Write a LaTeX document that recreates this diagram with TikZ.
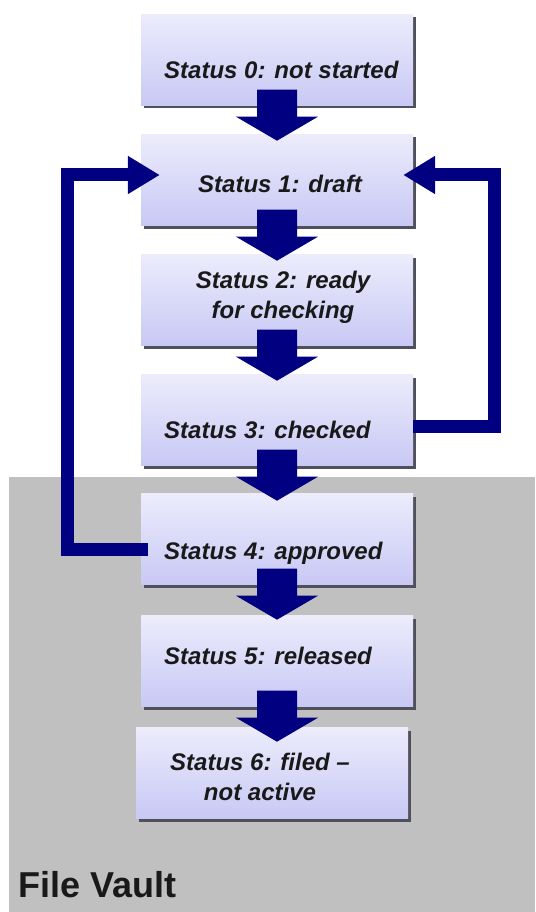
\documentclass[tikz,border=0pt]{standalone}
\usepackage{fontspec}
\setmainfont{Liberation Sans}
\usetikzlibrary{arrows.meta,calc,shadows}
\definecolor{boxtop}{RGB}{236,236,252}
\definecolor{boxbottom}{RGB}{200,200,245}
\definecolor{boxshade}{RGB}{80,80,92}
\definecolor{flownavy}{RGB}{0,0,128}
\definecolor{vaultgray}{RGB}{192,192,192}

\begin{document}
\begin{tikzpicture}[
  x=1pt, y=-1pt,
  every node/.style={font=\fontsize{24}{30}\selectfont\bfseries\itshape, text=black!90},
  stbox/.style={rectangle, minimum width=272pt, minimum height=91pt, inner sep=0pt,
    top color=boxtop, bottom color=boxbottom,
    drop shadow={shadow xshift=3pt, shadow yshift=-3pt, fill=boxshade, opacity=1}},
  sttext/.style={anchor=base west, inner sep=0pt},
  sttwo/.style={anchor=base, align=center, inner sep=0pt},
  flowedge/.style={fill=flownavy},
  loopedge/.style={-{Triangle[length=32pt, width=36pt]}, draw=flownavy, line width=13pt, line join=miter},
]
\useasboundingbox (0,0) rectangle (535,912);

% ---- file vault area ----
\fill[vaultgray] (9,477) rectangle (535,912);
\node[anchor=base west, inner sep=0pt, font=\fontsize{36}{40}\selectfont\bfseries] (vault) at (18,897) {File Vault};

% ---- status boxes ----
\node[stbox] (s0) at (277,60)  {};
\node[stbox] (s1) at (277,180) {};
\node[stbox] (s2) at (277,300) {};
\node[stbox] (s3) at (277,420) {};
\node[stbox] (s4) at (277,539) {};
\node[stbox] (s5) at (277,661) {};
\node[stbox] (s6) at (272,773) {};

% ---- block arrows between the boxes ----
\foreach \a/\b in {s0/s1, s1/s2, s2/s3, s3/s4, s4/s5, s5/s6} {
  \fill[flowedge] ($(\a.south)+(-20,-16)$) -- ($(\a.south)+(20,-16)$) -- ($(\a.south)+(20,11)$)
    -- ($(\a.south)+(41,11)$) -- ($(\a.south)+(0,35)$) -- ($(\a.south)+(-41,11)$)
    -- ($(\a.south)+(-20,11)$) -- cycle;
}

% ---- box texts ----
\node[sttext] (t0) at (164,79)  {Status 0: not started};
\node[sttext] (t1) at (198,193) {Status 1: draft};
\node[sttwo]  (t2) at (283,318) {Status 2: ready\\ for checking};
\node[sttext] (t3) at (164,438) {Status 3: checked};
\node[sttext] (t4) at (164,559) {Status 4: approved};
\node[sttext] (t5) at (164,664) {Status 5: released};
\node[sttwo]  (t6) at (260,800) {Status 6: filed --\\ not active};

% ---- back loops to draft ----
\coordinate (lcorner) at (67,175);
\coordinate (rcorner) at (494,175);
\draw[loopedge] ($(s4.west)+(7,10)$) -| (lcorner) -- ($(s1.west)+(19,-5)$);
\draw[loopedge] ($(s3.east)+(0,6)$) -| (rcorner) -- ($(s1.east)+(-10,-5)$);

\end{tikzpicture}
\end{document}
